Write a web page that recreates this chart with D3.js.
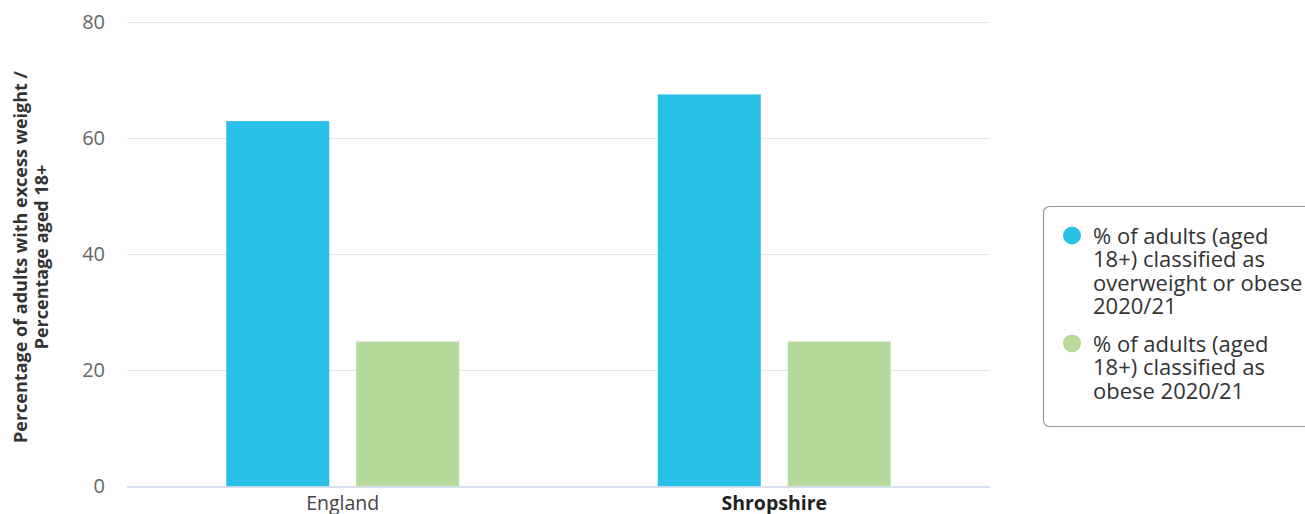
<!DOCTYPE html>
<html><head><meta charset="utf-8">
<script src="https://cdn.jsdelivr.net/npm/d3@7"></script>
<style>body{margin:0;background:#fff;} svg{display:block;font-family:"Open Sans",sans-serif;}</style>
</head><body>
<svg id="c" width="1305" height="514"></svg>
<script>
const categories = ["England", "Shropshire"];
const seriesNames = [
  ["% of adults (aged", "18+) classified as", "overweight or obese", "2020/21"],
  ["% of adults (aged", "18+) classified as", "obese 2020/21"]
];
const overweightValues = [63.0, 67.6];
const obeseValues = [25.0, 25.0];
const yTicks = [0, 20, 40, 60, 80];
const colors = ["#29c0e8", "#b5da9c"];

const svg = d3.select("#c");
const plotLeft = 127, plotRight = 990, plotTop = 22.5, plotBottom = 486.5;
const x = d3.scaleBand().domain(categories).range([plotLeft, plotRight]).padding(0);
const y = d3.scaleLinear().domain([0, 80]).range([plotBottom, plotTop]);
const inner = d3.scaleBand().domain([0, 1]).range([0, x.bandwidth()]).paddingInner(0.2077).paddingOuter(0.7635);

// grid
svg.append("g").selectAll("line").data(yTicks.filter(d => d > 0)).join("line")
  .attr("x1", plotLeft).attr("x2", plotRight)
  .attr("y1", d => y(d)).attr("y2", d => y(d))
  .attr("stroke", "#e6e6e6").attr("stroke-width", 1);

// y labels
const yAxis = d3.axisLeft(y).tickValues(yTicks).tickSize(0).tickPadding(0);
const gy = svg.append("g").attr("transform", `translate(105,0)`).call(yAxis);
gy.select(".domain").remove();
gy.selectAll("text").attr("font-size", 20).attr("fill", "#666").attr("font-family", "Open Sans");

// bars
const series = [overweightValues, obeseValues];
series.forEach((vals, si) => {
  svg.append("g").selectAll("rect").data(categories).join("rect")
    .attr("x", d => x(d) + inner(si))
    .attr("width", inner.bandwidth())
    .attr("y", (d, i) => y(vals[i]))
    .attr("height", (d, i) => y(0) - y(vals[i]))
    .attr("fill", colors[si]);
});

// x axis line
svg.append("line").attr("x1", plotLeft).attr("x2", plotRight).attr("y1", plotBottom + 0.5).attr("y2", plotBottom + 0.5)
  .attr("stroke", "#ccd6eb").attr("stroke-width", 1.5);

const xAxis = d3.axisBottom(x).tickSize(0).tickPadding(0);
const gx = svg.append("g").attr("transform", `translate(0,${plotBottom})`).call(xAxis);
gx.select(".domain").remove();
gx.selectAll("text").attr("font-size", 19.5).attr("font-family", "Open Sans")
  .attr("dy", null).attr("y", 23)
  .attr("font-weight", (d, i) => i === 1 ? "bold" : "normal")
  .attr("fill", (d, i) => i === 1 ? "#222" : "#444");

// y title
const yt = svg.append("text").attr("transform", "translate(0,257) rotate(-90)")
  .attr("text-anchor", "middle").attr("font-size", 18).attr("font-weight", "bold").attr("fill", "#333");
yt.append("tspan").attr("x", 0).attr("y", 27).text("Percentage of adults with excess weight /");
yt.append("tspan").attr("x", 0).attr("y", 48).text("Percentage aged 18+");

// legend
const lg = svg.append("g");
lg.append("rect").attr("x", 1043.5).attr("y", 206.5).attr("width", 280).attr("height", 220)
  .attr("rx", 6).attr("fill", "#fff").attr("stroke", "#999").attr("stroke-width", 1.2);
let ly = 244;
seriesNames.forEach((lines, si) => {
  lg.append("circle").attr("cx", 1072).attr("cy", ly - 8.5).attr("r", 9).attr("fill", colors[si]);
  lines.forEach((l, li) => {
    lg.append("text").attr("font-size", 22).attr("fill", "#333")
      .attr("x", 1093).attr("y", ly + li * 23.3).text(l);
  });
  ly += (lines.length - 1) * 23.3 + 38;
});
</script>
</body></html>
